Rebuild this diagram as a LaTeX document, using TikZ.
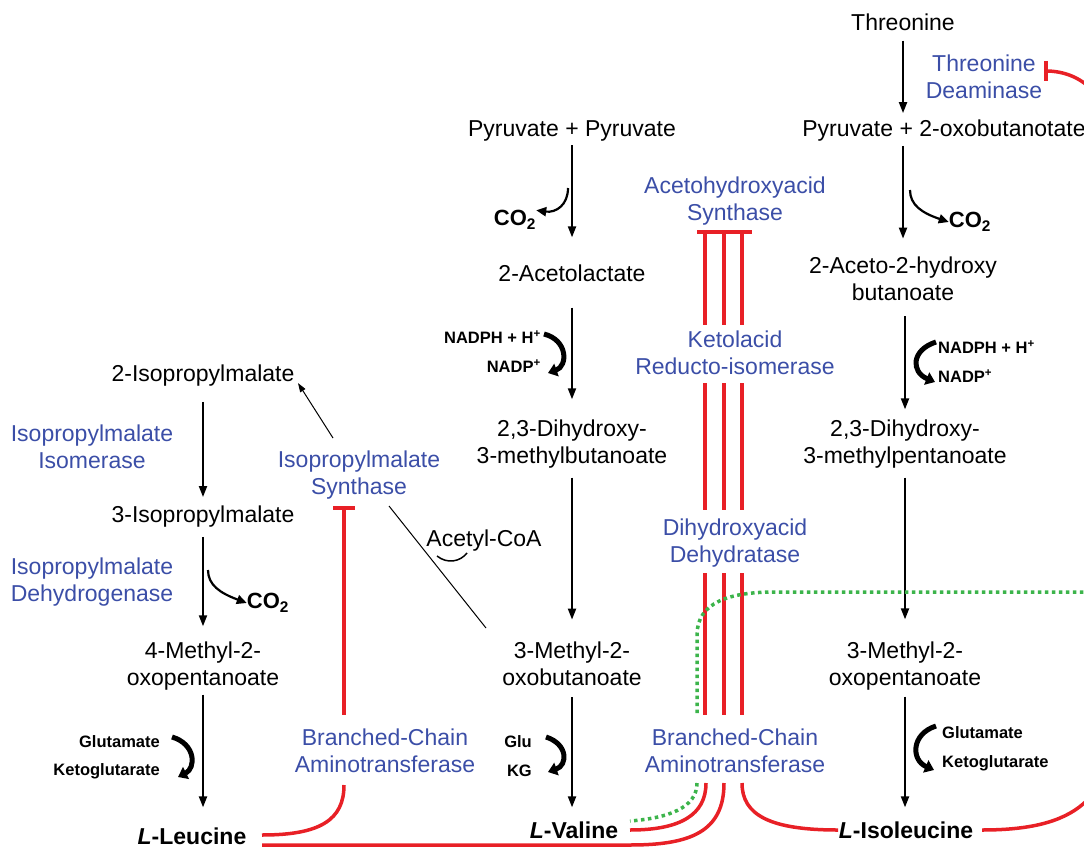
\documentclass[tikz,border=0pt]{standalone}
\usepackage{fontspec}
\setmainfont{Liberation Sans}
\usetikzlibrary{arrows.meta,calc}
\definecolor{enzblue}{RGB}{59,78,167}
\definecolor{inhred}{RGB}{232,32,38}
\definecolor{dotgreen}{RGB}{60,180,75}
\begin{document}
\begin{tikzpicture}[x=1pt,y=-1pt,
  met/.style={font=\fontsize{23}{27.5}\selectfont, align=center, inner sep=0pt},
  enz/.style={met, text=enzblue},
  cof/.style={font=\fontsize{16.5}{20}\selectfont\bfseries, inner sep=0pt},
  cotwo/.style={font=\fontsize{22}{26}\selectfont\bfseries, inner sep=0pt},
  arr/.style={line width=2pt, -{Triangle[length=11pt,width=8pt]}},
  thinarr/.style={line width=1pt, -{Triangle[length=9pt,width=6pt]}},
  curvarr/.style={line width=2.2pt, -{Triangle[length=10pt,width=9pt]}},
  fatarr/.style={line width=5pt, -{Triangle[length=9pt,width=13pt]}},
  inh/.style={line width=3.5pt, draw=inhred},
  dots/.style={line width=3.5pt, draw=dotgreen, dash pattern=on 3.5pt off 3.5pt},
]
\useasboundingbox (0,0) rectangle (1084,848);
\clip (0,0) rectangle (1084,848);

% ---------- metabolites ----------
\node[met] (thr)  at (903,22)  {Threonine};
\node[met] (pp)   at (572,131) {Pyruvate + Pyruvate};
\node[met] (p2o)  at (944,131) {Pyruvate + 2-oxobutanotate};
\node[met] (al)   at (572,273) {2-Acetolactate};
\node[met] (ahb)  at (903,279) {2-Aceto-2-hydroxy\\butanoate};
\node[met] (dhmb) at (572,444) {2,3-Dihydroxy-\\3-methylbutanoate};
\node[met] (dhmp) at (905,444) {2,3-Dihydroxy-\\3-methylpentanoate};
\node[met] (ipmb) at (203,376) {2-Isopropylmalate};
\node[met] (ipmc) at (203,517) {3-Isopropylmalate};
\node[met] (mop)  at (203,666) {4-Methyl-2-\\oxopentanoate};
\node[met] (mob)  at (572,664) {3-Methyl-2-\\oxobutanoate};
\node[met] (mopb) at (905,666) {3-Methyl-2-\\oxopentanoate};
\node[met,font=\fontsize{23}{27.5}\selectfont\bfseries] (leu) at (192,836) {\textit{L}-Leucine};
\node[met,font=\fontsize{23}{27.5}\selectfont\bfseries] (val) at (574,830) {\textit{L}-Valine};
\node[met,font=\fontsize{23}{27.5}\selectfont\bfseries] (ile) at (906,830) {\textit{L}-Isoleucine};
\node[met] (acoa) at (484,541) {Acetyl-CoA};

% ---------- enzymes ----------
\node[enz] (td)    at (984,77)  {Threonine\\Deaminase};
\node[enz] (ahas)  at (735,201) {Acetohydroxyacid\\Synthase};
\node[enz] (kari)  at (735,353) {Ketolacid\\Reducto-isomerase};
\node[enz] (dhad)  at (735,543) {Dihydroxyacid\\Dehydratase};
\node[enz] (bcat)  at (735,751) {Branched-Chain\\Aminotransferase};
\node[enz] (ipms)  at (359,475) {Isopropylmalate\\Synthase};
\node[enz] (bcatb) at (385,751) {Branched-Chain\\Aminotransferase};
\node[enz] (ipmi)  at (92,447)  {Isopropylmalate\\Isomerase};
\node[enz] (ipmd)  at (92,582)  {Isopropylmalate\\Dehydrogenase};

% ---------- cofactors ----------
\node[cotwo] (co2a) at (515,220) {CO\textsubscript{2}};
\node[cotwo] (co2b) at (970,222) {CO\textsubscript{2}};
\node[cotwo] (co2c) at (268,603) {CO\textsubscript{2}};
\node[cof,anchor=east] (nadpha) at (541,337) {NADPH + H\textsuperscript{+}};
\node[cof,anchor=east] (nadpa)  at (541,366) {NADP\textsuperscript{+}};
\node[cof,anchor=west] (nadphb) at (938,347) {NADPH + H\textsuperscript{+}};
\node[cof,anchor=west] (nadpb)  at (938,376) {NADP\textsuperscript{+}};
\node[cof,anchor=east] (glua) at (160,742) {Glutamate};
\node[cof,anchor=east] (kga)  at (160,771) {Ketoglutarate};
\node[cof,anchor=east] (glub) at (532,742) {Glu};
\node[cof,anchor=east] (kgb)  at (532,771) {KG};
\node[cof,anchor=west] (gluc) at (942,733) {Glutamate};
\node[cof,anchor=west] (kgc)  at (942,763) {Ketoglutarate};

% ---------- main arrows ----------
\draw[arr] ([yshift=-4pt]pp.south)   -- ([yshift=27pt]al.north);
\draw[arr] ([yshift=-26pt]al.south)  -- ([yshift=20pt]dhmb.north);
\draw[arr] ([yshift=-9pt]dhmb.south) -- ([yshift=22pt]mob.north);
\draw[arr] ([yshift=-11pt]mob.south) -- ([yshift=14pt]val.north -| mob.south);

\draw[arr] ([yshift=-10pt]thr.south) -- ([yshift=7pt]thr.south |- p2o.north);
\draw[arr] ([yshift=-4pt]p2o.south -| ahb.north) -- ([yshift=18pt]ahb.north);
\draw[arr] ([yshift=-15pt]ahb.south -| dhmp.north) -- ([yshift=10pt]dhmp.north);
\draw[arr] ([yshift=-9pt]dhmp.south) -- ([yshift=22pt]mopb.north);
\draw[arr] ([yshift=-6pt]mopb.south) -- ([yshift=14pt]ile.north -| mopb.south);

\draw[arr] ([yshift=-15pt]ipmb.south) -- ([yshift=9pt]ipmc.north);
\draw[arr] ([yshift=-9pt]ipmc.south)  -- ([yshift=15pt]mop.north);
\draw[arr] ([yshift=-4pt]mop.south)   -- ([yshift=20pt]leu.north -| mop.south);

% ---------- CO2 release arrows ----------
\draw[curvarr] (568,188) .. controls (568,205) and (556,213) .. (co2a.north east);
\draw[curvarr] (910,190) .. controls (910,205) and (922,213) .. (co2b.west);
\draw[curvarr] (208,570) .. controls (208,585) and (220,593) .. (co2c.west);

% ---------- cofactor turnover arrows ----------
\draw[fatarr] (544,334) .. controls (568,340) and (568,366) .. (548,373);
\draw[fatarr] (546,737) .. controls (568,744) and (568,765) .. (548,772);
\draw[fatarr] (172,737) .. controls (196,744) and (196,768) .. (178,777);
\draw[fatarr] (936,726) .. controls (911,734) and (911,760) .. (934,770);
\draw[fatarr] (936,342) .. controls (911,350) and (911,372) .. (935,382);

% ---------- isopropylmalate synthase link ----------
\coordinate (ka) at (486,628);
\coordinate (kb) at (389,506);
\draw[line width=1pt] (ka) -- (kb);
\coordinate (sa) at (333,438);
\draw[thinarr] (sa) -- ([xshift=95pt,yshift=-18pt]ipmb.north);
\draw[line width=1.5pt] (437,556) .. controls (447,564) and (460,562) .. (467,553);

% ---------- feedback inhibition (red) ----------
\draw[inh] (697,232) -- (752,232);
\foreach \x in {705,724,742}{
  \draw[inh] (\x,232) -- (\x,325);
  \draw[inh] (\x,383) -- (\x,510);
  \draw[inh] (\x,573) -- (\x,715);
}
\draw[inh] (706,783) .. controls (706,815) and (680,830) .. (630,830);
\draw[inh] (724,783) .. controls (724,832) and (690,845) .. (630,845) -- (262,845);
\draw[inh] (742,783) .. controls (742,815) and (770,830) .. (838,830);
\draw[inh] (982,830) .. controls (1075,830) and (1115,800) .. (1115,710) -- (1115,160)
   .. controls (1115,95) and (1080,71) .. (1046,71);
\draw[inh] (1046,61) -- (1046,81);

\draw[inh] (333,508) -- (355,508);
\draw[inh] (344,508) -- (344,715);
\draw[inh] (344,785) .. controls (344,820) and (320,835) .. (262,835);

% ---------- green dotted ----------
\draw[dots] (697,783) .. controls (697,808) and (668,818) .. (630,821);
\draw[dots] (697,713) -- (697,635) .. controls (697,602) and (730,592) .. (775,592) -- (1090,592);

\end{tikzpicture}
\end{document}
